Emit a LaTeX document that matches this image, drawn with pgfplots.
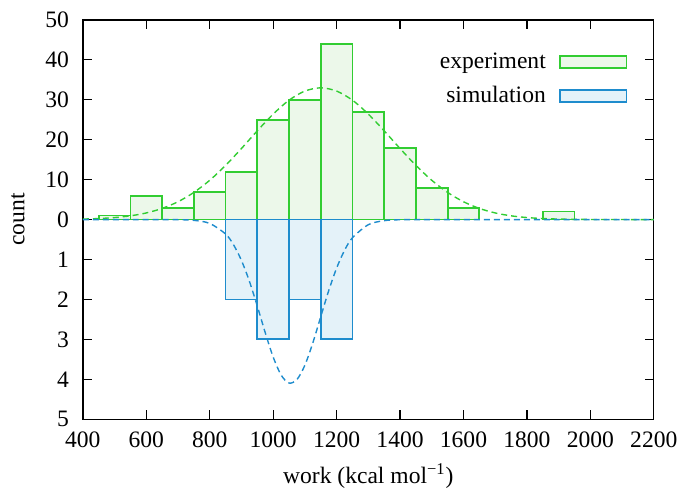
\documentclass[border=0pt]{standalone}
\usepackage{pgfplots}
\pgfplotsset{compat=1.18}
\usepackage{fontspec}
\setmainfont{Liberation Serif}
\definecolor{expline}{RGB}{50,205,50}
\definecolor{expfill}{RGB}{236,248,234}
\definecolor{simline}{RGB}{30,140,205}
\definecolor{simfill}{RGB}{228,242,249}
\pgfplotsset{boxlegend/.style={legend image code/.code={\draw[##1] (0pt,-3pt) rectangle (33.5pt,3pt);}}}
\begin{document}
\begin{tikzpicture}[font=\fontsize{11.8}{14}\selectfont]
\begin{axis}[
  scale only axis, width=286pt, height=200pt,
  xmin=400, xmax=2200, ymin=-50, ymax=50,
  xtick={400,600,...,2200},
  ytick={-50,-40,-30,-20,-10,0,10,20,30,40,50},
  yticklabels={5,4,3,2,1,0,10,20,30,40,50},
  tick align=inside, major tick length=4.5pt,
  tick style={black, line width=0.6pt},
  axis line style={black, line width=0.7pt},
  /pgf/number format/assume math mode=true,
  /pgf/number format/1000 sep={},
  xticklabel style={yshift=-3pt},
  yticklabel style={xshift=-3.5pt},
  xlabel={work (kcal mol\textsuperscript{−1})},
  ylabel={count},
  xlabel style={yshift=-1pt},
  ylabel style={xshift=0pt, yshift=3.5pt},
  legend style={draw=none, fill=none, at={(rel axis cs:1,1)}, anchor=north east,
    xshift=-10pt, yshift=-12.8pt, row sep=4.5pt, column sep=3pt,
    nodes={inner ysep=1.5pt, inner xsep=3.5pt}},
  legend plot pos=right,
  legend cell align=right,
]
\addplot[ybar, bar width=100, bar shift=0pt, draw=expline, fill=expfill, line width=0.9pt, boxlegend]
  coordinates {(500,1) (600,6) (700,3) (800,7) (900,12) (1000,25) (1100,30) (1200,44)
  (1300,27) (1400,18) (1500,8) (1600,3) (1900,2)};
\addlegendentry{experiment}
\addplot[expline, dash pattern=on 3pt off 2pt, line width=0.7pt, smooth, forget plot]
  coordinates {(400,0.13)(450,0.26)(500,0.51)(550,0.94)(600,1.66)(650,2.80)(700,4.47)
  (750,6.80)(800,9.84)(850,13.57)(900,17.80)(950,22.23)(1000,26.42)(1050,29.90)
  (1100,32.19)(1150,33.00)(1200,32.19)(1250,29.90)(1300,26.42)(1350,22.23)(1400,17.80)
  (1450,13.57)(1500,9.84)(1550,6.80)(1600,4.47)(1650,2.80)(1700,1.66)(1750,0.94)
  (1800,0.51)(1850,0.26)(1900,0.13)(1950,0.06)(2000,0.03)(2100,0.01)(2200,0)};
\addplot[ybar, bar width=100, bar shift=0pt, draw=simline, fill=simfill, line width=0.9pt, boxlegend]
  coordinates {(900,-20) (1000,-30) (1100,-20) (1200,-30)};
\addlegendentry{simulation}
\addplot[simline, dash pattern=on 3pt off 2pt, line width=0.7pt, smooth, forget plot]
  coordinates {(400,0)(500,0)(600,0)(700,-0.03)(750,-0.19)(800,-0.96)(850,-3.61)
  (875,-6.30)(900,-10.23)(925,-15.43)(950,-21.68)(975,-28.32)(1000,-34.42)
  (1025,-38.92)(1050,-40.94)(1075,-40.06)(1100,-36.47)(1125,-30.89)(1150,-24.33)
  (1175,-17.83)(1200,-12.16)(1225,-7.71)(1250,-4.55)(1300,-1.28)(1350,-0.27)
  (1400,-0.04)(1500,0)(1600,0)(1800,0)(2000,0)(2200,0)};
\end{axis}
\path ([shift={(-41.5pt,-35pt)}]current axis.south west) rectangle ([shift={(14.5pt,10pt)}]current axis.north east);
\end{tikzpicture}
\end{document}
